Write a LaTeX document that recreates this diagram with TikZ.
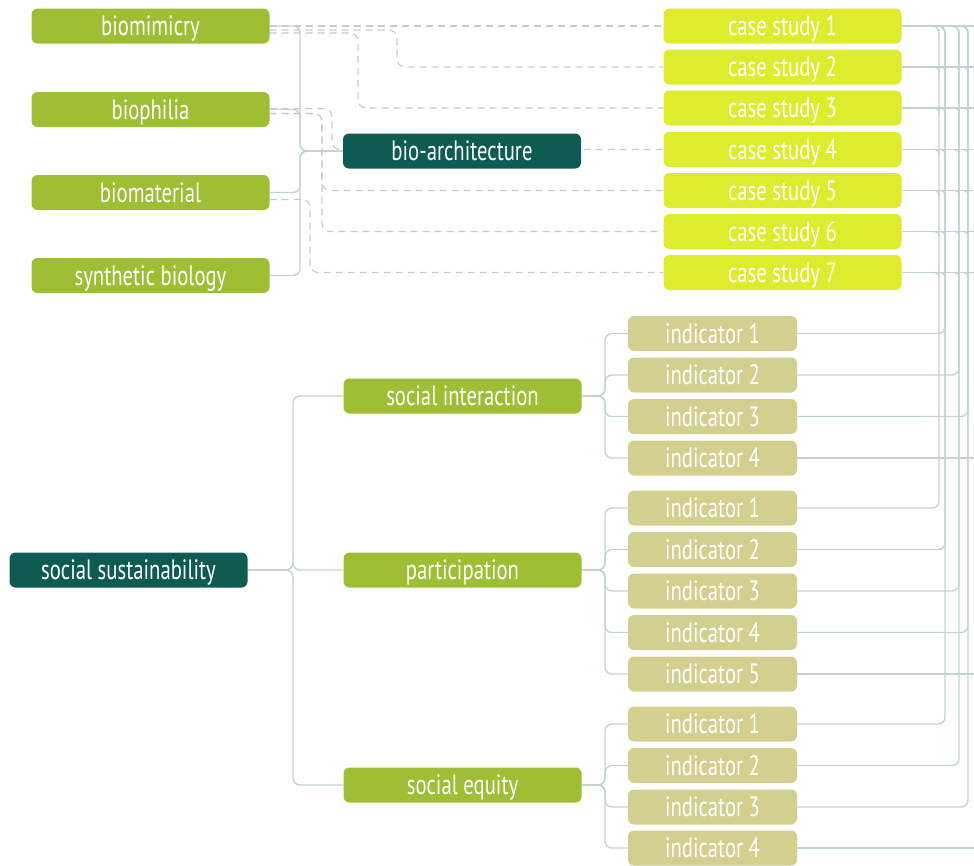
\documentclass[tikz,border=0pt]{standalone}
\usepackage{fontspec}
\setmainfont{PT Sans}[FakeStretch=0.74]
\usetikzlibrary{calc}
\pgfdeclarelayer{background}
\pgfsetlayers{background,main}
\definecolor{leaf}{HTML}{9EBE34}
\definecolor{deepteal}{HTML}{0E5B52}
\definecolor{limebox}{HTML}{DDEC2C}
\definecolor{khaki}{HTML}{D3CF8E}
\definecolor{wire}{HTML}{C5D2D3}
\definecolor{dashgrey}{HTML}{C9CBCB}
\begin{document}
\begin{tikzpicture}[x=1pt,y=-1pt,
  box/.style={rounded corners=6pt, inner sep=0pt, minimum height=35pt,
    text height=19.5pt, text depth=0pt, text=white,
    font=\fontsize{28}{28}\selectfont},
  wide/.style={box, minimum width=238pt},
  leafbox/.style={wide, fill=leaf},
  tealbox/.style={wide, fill=deepteal},
  casebox/.style={wide, fill=limebox},
  indbox/.style={box, fill=khaki, minimum width=169pt},
  conn/.style={draw=wire, line width=1.4pt, rounded corners=7pt},
  dsh/.style={draw=dashgrey, line width=1.2pt, dash pattern=on 7pt off 5pt, rounded corners=8pt}]
\useasboundingbox (0,0) rectangle (974,865);

% bio concepts
\node[leafbox] (bm)   at (150.5,26)    {biomimicry};
\node[leafbox] (bp)   at (150.5,109.5) {biophilia};
\node[leafbox] (bmat) at (150.5,192.5) {biomaterial};
\node[leafbox] (syn)  at (150.5,275.5) {synthetic biology};
\node[tealbox] (ba)   at (462,151)     {bio-architecture};

% case studies
\foreach \k/\y in {1/26,2/67,3/108,4/149.5,5/190.5,6/231.5,7/272.5}
  \node[casebox] (cs\k) at (782.5,\y) {case study \k};

% social sustainability tree
\node[tealbox] (ss) at (128.5,570) {social sustainability};
\node[leafbox] (si) at (462.5,396) {social interaction};
\node[leafbox] (pa) at (462.5,570) {participation};
\node[leafbox] (se) at (462.5,785) {social equity};

\foreach \k/\y in {1/333.5,2/375,3/416.5,4/458}
  \node[indbox] (s\k) at (712.5,\y) {indicator \k};
\foreach \k/\y in {1/508,2/549.5,3/591,4/632.5,5/674}
  \node[indbox] (p\k) at (712.5,\y) {indicator \k};
\foreach \k/\y in {1/724,2/765.5,3/807,4/848}
  \node[indbox] (e\k) at (712.5,\y) {indicator \k};

% bus and bracket positions
\coordinate (tb) at (300,0);
\coordinate (sb) at (293,0);
\coordinate (ib) at (605,0);
\coordinate (v1) at (939,0);
\coordinate (v2) at (945,0);
\coordinate (v3) at (959,0);
\coordinate (v4) at (968,0);
\coordinate (edge) at (974,0);
\coordinate (d2) at (397,0);
\coordinate (d3) at (358,0);
\coordinate (d4) at (332,0);
\coordinate (d5) at (322,0);
\coordinate (d7) at (310,0);

\begin{pgfonlayer}{background}
% dashed links from concepts to case studies
\draw[dsh] (bm.east) -- (cs1.west);
\draw[dsh] ([yshift=-4pt]bm.east) -| (d2 |- cs2.west) -- (cs2.west);
\draw[dsh] ([yshift=-7pt]bm.east) -| (d3 |- cs3.west) -- (cs3.west);
\draw[dsh] ([yshift=1pt]bp.east) -| (d4 |- cs4.west) -- (cs4.west);
\draw[dsh] ([yshift=-4pt]bp.east) -| (d5 |- cs5.west) -- (cs5.west);
\draw[dsh] ([yshift=-4pt]bp.east) -| (d5 |- cs6.west) -- (cs6.west);
\draw[dsh] ([yshift=-7pt]bmat.east) -| (d7 |- cs7.west) -- (cs7.west);

% solid merge into bio-architecture
\foreach \n in {bm,bp,bmat,syn}
  \draw[conn] (\n.east) -| (tb |- ba.west) -- (ba.west);

% social sustainability brackets
\foreach \n in {si,pa,se}
  \draw[conn] (ss.east) -| (sb |- \n.west) -- (\n.west);
\foreach \n in {s1,s2,s3,s4}
  \draw[conn] (si.east) -| (ib |- \n.west) -- (\n.west);
\foreach \n in {p1,p2,p3,p4,p5}
  \draw[conn] (pa.east) -| (ib |- \n.west) -- (\n.west);
\foreach \n in {e1,e2,e3,e4}
  \draw[conn] (se.east) -| (ib |- \n.west) -- (\n.west);

% case study bus on the right
\foreach \k in {1,...,7}
  \draw[conn] (cs\k.east) -- (cs\k.east -| edge);
\foreach \k in {2,...,7}
  \foreach \v in {v1,v2,v3,v4}
    \draw[conn, rounded corners=4pt] ($(cs\k.east -| \v)+(-6,0)$) -| ($(cs\k.east -| \v)+(0,6)$);
\draw[conn] (p1.east) -| (v1 |- cs1.east) -- (cs1.east);
\foreach \n in {s1,p2,e1}
  \draw[conn] (\n.east) -| (v2 |- cs1.east) -- (cs1.east);
\foreach \n in {s2,p3,e2}
  \draw[conn] (\n.east) -| (v3 |- cs1.east) -- (cs1.east);
\foreach \n in {s3,p4,e3}
  \draw[conn] (\n.east) -| (v4 |- cs1.east) -- (cs1.east);
\foreach \n in {s4,p5,e4}
  \draw[conn] (\n.east) -- (\n.east -| edge);
\end{pgfonlayer}
\end{tikzpicture}
\end{document}
